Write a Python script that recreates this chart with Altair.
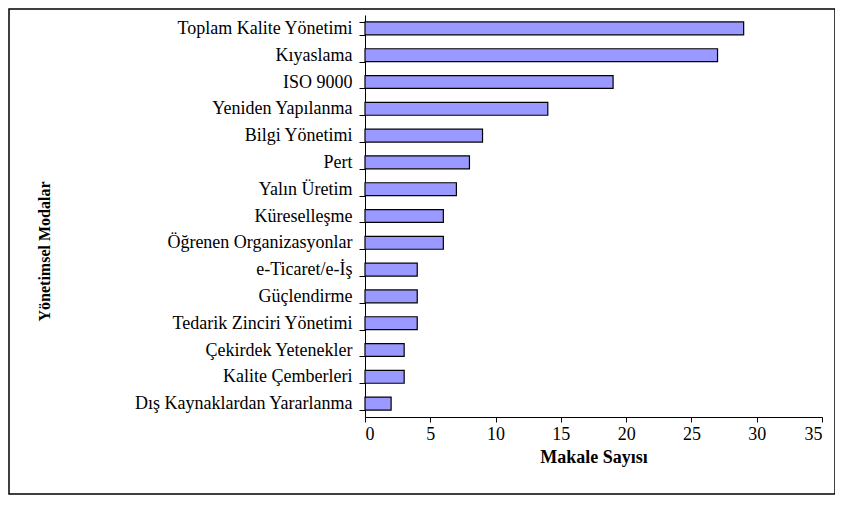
import altair as alt
import pandas as pd

categories = [
    "Toplam Kalite Yönetimi",
    "Kıyaslama",
    "ISO 9000",
    "Yeniden Yapılanma",
    "Bilgi Yönetimi",
    "Pert",
    "Yalın Üretim",
    "Küreselleşme",
    "Öğrenen Organizasyonlar",
    "e-Ticaret/e-İş",
    "Güçlendirme",
    "Tedarik Zinciri Yönetimi",
    "Çekirdek Yetenekler",
    "Kalite Çemberleri",
    "Dış Kaynaklardan Yararlanma",
]
values = [29, 27, 19, 14, 9, 8, 7, 6, 6, 4, 4, 4, 3, 3, 2]
x_ticks = [0, 5, 10, 15, 20, 25, 30, 35]

df = pd.DataFrame({"model": categories, "count": values})

FONT = "Liberation Serif"

bars = alt.Chart(df).mark_bar(
    color="#9999FF", stroke="black", strokeWidth=1.2
).encode(
    x=alt.X(
        "count:Q",
        scale=alt.Scale(domain=[0, 35], nice=False),
        axis=alt.Axis(
            title="Makale Sayısı",
            values=x_ticks,
            grid=False,
            domainColor="black",
            tickColor="black",
            tickSize=5,
            labelFont=FONT,
            labelFontSize=18,
            labelColor="black",
            labelPadding=3,
            titleFont=FONT,
            titleFontSize=18,
            titleFontWeight="bold",
            titleColor="black",
            titlePadding=5,
        ),
    ),
    y=alt.Y(
        "model:N",
        sort=categories,
        scale=alt.Scale(paddingInner=0.52, paddingOuter=0.26),
        axis=alt.Axis(
            title="Yönetimsel Modalar",
            tickBand="extent",
            domainColor="black",
            tickColor="black",
            tickSize=6,
            labelFont=FONT,
            labelFontSize=18,
            labelLimit=400,
            labelColor="black",
            labelPadding=7,
            titleFont=FONT,
            titleFontSize=16,
            titleFontWeight="bold",
            titleColor="black",
            titleX=-321,
            titleY=236,
            titleAngle=-90,
            titleAlign="center",
            titleBaseline="middle",
        ),
    ),
)

frame = alt.Chart(alt.Data(values=[{}])).mark_rect(
    fill=None, stroke="black", strokeWidth=1.5
).encode(
    x=alt.value(-356),
    x2=alt.value(470),
    y=alt.value(-6),
    y2=alt.value(479),
)

chart = alt.layer(frame, bars).properties(
    width=457,
    height=402,
    autosize=alt.AutoSizeParams(type="none"),
    padding={"left": 357, "top": 7, "right": 13, "bottom": 79},
    background="white",
).configure_view(stroke=None)

chart.save("out.html", embed_options={"renderer": "svg", "actions": False})
